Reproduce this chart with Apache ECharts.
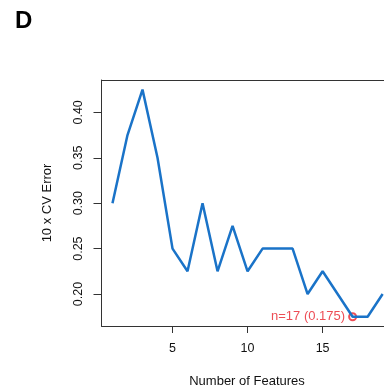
<!DOCTYPE html>
<html>
<head>
<meta charset="utf-8">
<script src="https://cdn.jsdelivr.net/npm/echarts@6/dist/echarts.min.js"></script>
<style>html,body{margin:0;padding:0;background:#fff;}#c{width:384px;height:392px;}</style>
</head>
<body>
<div id="c"></div>
<script>
var features = [1,2,3,4,5,6,7,8,9,10,11,12,13,14,15,16,17,18,19];
var cvError = [0.30,0.375,0.425,0.35,0.25,0.225,0.30,0.225,0.275,0.225,0.25,0.25,0.25,0.20,0.225,0.20,0.175,0.175,0.20];
var xTicks = [5,10,15];
var yTicks = [0.20,0.25,0.30,0.35,0.40];
var bestN = 17;
var bestErr = 0.175;
var panelLabel = 'D';
var xTitle = 'Number of Features';
var yTitle = '10 x CV Error';

var font = 'Liberation Sans, Arial, sans-serif';
var xMin = 0.268, xMax = 19.09;
var chart = echarts.init(document.getElementById('c'), null, {renderer:'canvas'});
var boxLine = {show:true, lineStyle:{color:'#333', width:1}};
chart.setOption({
  animation:false,
  backgroundColor:'#fff',
  grid:{left:101.5, top:80, bottom:66, right:0, show:false},
  graphic:[
    {type:'text', left:15, top:9, style:{text:panelLabel, font:'bold 24px '+font, fill:'#000'}},
    {type:'text', x:247, y:381, style:{text:xTitle, font:'13px '+font, fill:'#111', textAlign:'center', textVerticalAlign:'middle'}},
    {type:'text', x:47, y:203, rotation:Math.PI/2, style:{text:yTitle, font:'13px '+font, fill:'#111', textAlign:'center', textVerticalAlign:'middle'}}
  ],
  xAxis:[{type:'value', min:xMin, max:xMax, position:'bottom',
    axisLine:boxLine,
    splitLine:{show:false},
    axisTick:{show:true, inside:false, length:7, lineStyle:{color:'#333'}, customValues:xTicks},
    axisLabel:{margin:16, fontSize:12.5, fontFamily:font, color:'#111', customValues:xTicks}
  },{type:'value', min:xMin, max:xMax, position:'top',
    axisLine:boxLine, splitLine:{show:false}, axisTick:{show:false}, axisLabel:{show:false}
  }],
  yAxis:{type:'value', min:0.1648, max:0.4356,
    axisLine:boxLine,
    splitLine:{show:false},
    axisTick:{show:true, inside:false, length:8, lineStyle:{color:'#333'}, customValues:yTicks},
    axisLabel:{margin:16, rotate:90, fontSize:12.5, fontFamily:font, color:'#111', customValues:yTicks,
      formatter:function(v){return v.toFixed(2);}}
  },
  series:[
    {type:'line', data:features.map(function(f,i){return [f,cvError[i]];}),
      showSymbol:false, symbol:'none', lineStyle:{color:'#1a73c8', width:2.5}, clip:false},
    {type:'scatter', data:[[bestN,bestErr]], symbol:'emptyCircle', symbolSize:7,
      itemStyle:{color:'#e8202a', borderColor:'#e8202a', borderWidth:1},
      label:{show:true, position:'left', distance:3, formatter:'n='+bestN+' ('+bestErr.toFixed(3)+')',
        color:'#e8202a', fontSize:13, fontFamily:font}}
  ]
});
</script>
</body>
</html>
